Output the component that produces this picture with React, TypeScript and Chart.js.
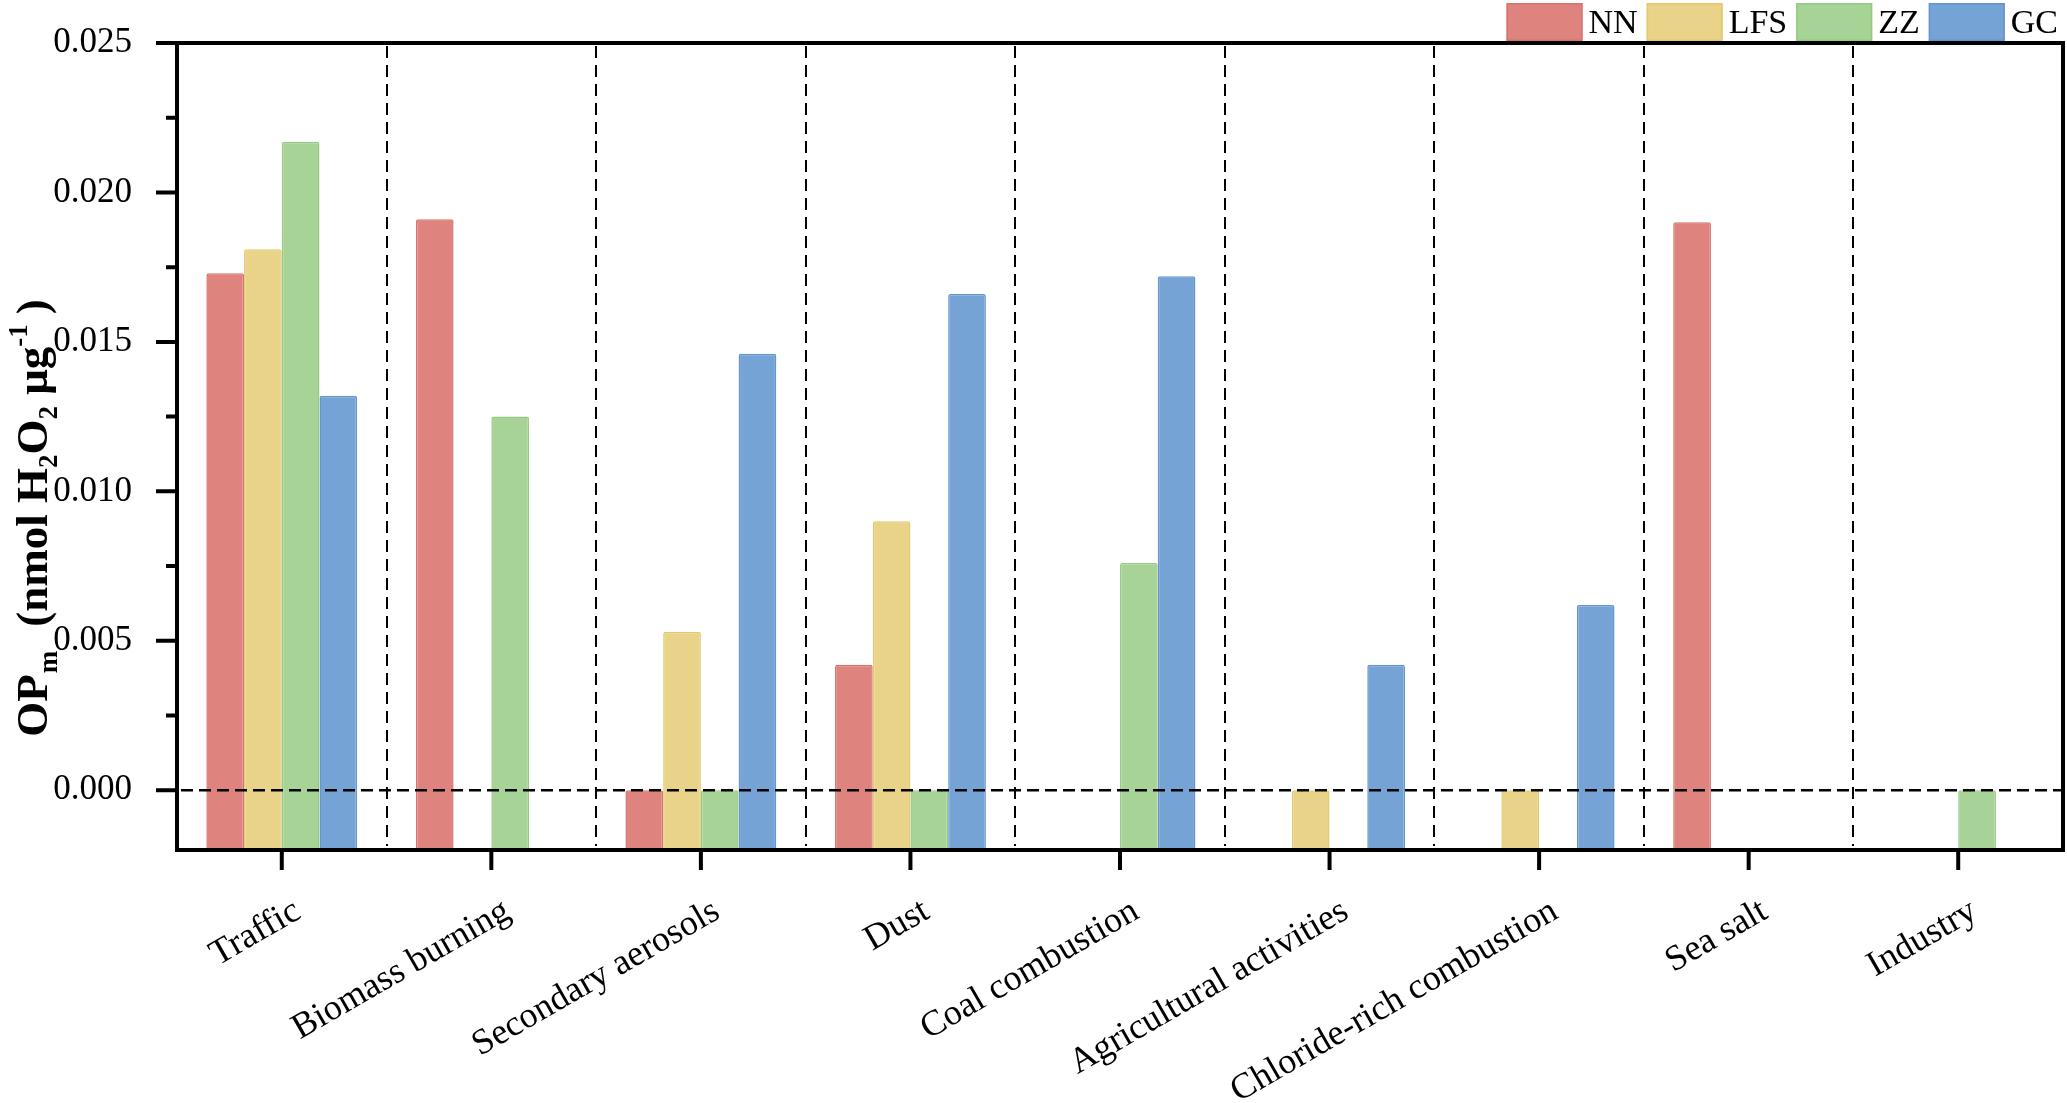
import React, { useEffect, useRef } from 'react';
import { Chart, registerables } from 'chart.js';

Chart.register(...registerables);

const categories = [
  'Traffic',
  'Biomass burning',
  'Secondary aerosols',
  'Dust',
  'Coal combustion',
  'Agricultural activities',
  'Chloride-rich combustion',
  'Sea salt',
  'Industry',
];
const seriesLabels = ['NN', 'LFS', 'ZZ', 'GC'];
const nnValues = [0.0173, 0.0191, 0, 0.0042, null, null, null, 0.019, null];
const lfsValues = [0.0181, null, 0.0053, 0.009, null, 0, 0, null, null];
const zzValues = [0.0217, 0.0125, 0, 0, 0.0076, null, null, null, 0];
const gcValues = [0.0132, null, 0.0146, 0.0166, 0.0172, 0.0042, 0.0062, null, null];
const yMajorTicks = [0, 0.005, 0.01, 0.015, 0.02, 0.025];
const yMinorTicks = [0.0025, 0.0075, 0.0125, 0.0175, 0.0225];
const Y_MIN = -0.002;
const Y_MAX = 0.025;
const yTitleTexts = ['OP', 'm', '(nmol H', '2', 'O', '2', ' \u03bcg', '-1', ')'];
const yTitleScripts = ['', 'sub', '', 'sub', '', 'sub', '', 'sup', ''];
const yTitleGapsBefore = [0, 1, 24, 0, 0, 0, 0, 0, 10];

const SERIF = "'Liberation Serif', 'Times New Roman', Times, serif";
const fills = ['#DE837D', '#E8D388', '#A7D396', '#76A3D5'];
const strokes = ['#D6736C', '#E2C96F', '#96C983', '#6495CF'];

const decorPlugin = {
  id: 'decor',
  beforeDatasetsDraw(chart: any) {
    const { ctx, chartArea: a } = chart;
    const x = chart.scales.x;
    ctx.save();
    ctx.strokeStyle = '#000';
    ctx.lineWidth = 2;
    ctx.setLineDash([12, 7]);
    for (let i = 0; i < categories.length - 1; i++) {
      const px = Math.round((x.getPixelForValue(i) + x.getPixelForValue(i + 1)) / 2);
      ctx.beginPath();
      ctx.moveTo(px, a.top + 3);
      ctx.lineTo(px, a.bottom - 4);
      ctx.stroke();
    }
    ctx.restore();
  },
  afterDatasetsDraw(chart: any) {
    const { ctx, chartArea: a } = chart;
    const x = chart.scales.x;
    const y = chart.scales.y;
    ctx.save();
    // zero line
    ctx.strokeStyle = '#000';
    ctx.lineWidth = 2.5;
    ctx.setLineDash([12, 6]);
    const y0 = y.getPixelForValue(0);
    ctx.beginPath();
    ctx.moveTo(a.left + 4, y0);
    ctx.lineTo(a.right, y0);
    ctx.stroke();
    ctx.setLineDash([]);
    // frame
    ctx.lineWidth = 4;
    ctx.strokeRect(a.left, a.top, a.right - a.left, a.bottom - a.top);
    // y ticks
    ctx.beginPath();
    for (const v of yMajorTicks) {
      const py = y.getPixelForValue(v);
      ctx.moveTo(a.left - 21, py);
      ctx.lineTo(a.left, py);
    }
    for (const v of yMinorTicks) {
      const py = y.getPixelForValue(v);
      ctx.moveTo(a.left - 11, py);
      ctx.lineTo(a.left, py);
    }
    // x ticks
    for (let i = 0; i < categories.length; i++) {
      const px = x.getPixelForValue(i);
      ctx.moveTo(px, a.bottom);
      ctx.lineTo(px, a.bottom + 20);
    }
    ctx.stroke();

    // legend
    const ds = chart.data.datasets;
    ctx.font = `34px ${SERIF}`;
    const boxW = 76;
    const boxH = 38;
    const gapText = 6;
    const gapItem = 9;
    const widths = ds.map((d: any) => ctx.measureText(d.label).width);
    let total = 0;
    widths.forEach((w: number) => (total += boxW + gapText + w));
    total += gapItem * (ds.length - 1);
    let lx = a.right - 5 - total;
    const top = a.top - 40;
    ds.forEach((d: any, i: number) => {
      ctx.fillStyle = d.backgroundColor;
      ctx.fillRect(lx, top, boxW, boxH);
      ctx.strokeStyle = d.borderColor;
      ctx.lineWidth = 1.5;
      ctx.strokeRect(lx + 0.75, top + 0.75, boxW - 1.5, boxH - 1.5);
      ctx.fillStyle = '#000';
      ctx.textBaseline = 'alphabetic';
      ctx.textAlign = 'left';
      ctx.fillText(d.label, lx + boxW + gapText, top + boxH / 2 + 11);
      lx += boxW + gapText + widths[i] + gapItem;
    });

    // y title
    const size = 45;
    const small = Math.round(size * 0.6);
    const fontFor = (s: string) => `bold ${s ? small : size}px ${SERIF}`;
    ctx.translate(47, 518);
    ctx.rotate(-Math.PI / 2);
    ctx.textAlign = 'left';
    ctx.textBaseline = 'alphabetic';
    let tw = 0;
    yTitleTexts.forEach((t, i) => {
      ctx.font = fontFor(yTitleScripts[i]);
      tw += yTitleGapsBefore[i] + ctx.measureText(t).width;
    });
    let tx = -tw / 2;
    ctx.fillStyle = '#000';
    yTitleTexts.forEach((t, i) => {
      const s = yTitleScripts[i];
      ctx.font = fontFor(s);
      tx += yTitleGapsBefore[i];
      const dy = s === 'sub' ? size * 0.22 : s === 'sup' ? -size * 0.45 : 0;
      ctx.fillText(t, tx, dy);
      tx += ctx.measureText(t).width;
    });
    ctx.restore();
  },
};

export default function App() {
  const ref = useRef<HTMLCanvasElement>(null);
  useEffect(() => {
    const valueLists = [nnValues, lfsValues, zzValues, gcValues];
    const chart = new Chart(ref.current as HTMLCanvasElement, {
      type: 'bar',
      data: {
        labels: categories,
        datasets: seriesLabels.map((label, i) => ({
          label,
          data: valueLists[i] as any,
          backgroundColor: fills[i],
          borderColor: strokes[i],
          borderWidth: 1.5,
          borderRadius: 2,
          base: Y_MIN,
          categoryPercentage: 0.72,
          barPercentage: 1.0,
        })),
      },
      options: {
        animation: false,
        responsive: true,
        maintainAspectRatio: false,
        layout: { padding: { top: 43, right: 4, left: 0, bottom: 0 } },
        plugins: {
          legend: { display: false },
          tooltip: { enabled: false },
        },
        scales: {
          x: {
            type: 'category',
            offset: true,
            grid: { display: false },
            border: { display: false },
            ticks: {
              autoSkip: false,
              minRotation: 30,
              maxRotation: 30,
              padding: 32,
              labelOffset: 16,
              color: '#000',
              font: { family: SERIF, size: 36 },
            },
            afterFit: (s: any) => {
              s.height = 253;
              s.paddingLeft = 0;
              s.paddingRight = 0;
            },
          },
          y: {
            type: 'linear',
            min: Y_MIN,
            max: Y_MAX,
            grid: { display: false },
            border: { display: false },
            afterBuildTicks: (s: any) => {
              s.ticks = yMajorTicks.map((v) => ({ value: v }));
            },
            ticks: {
              padding: 37,
              color: '#000',
              font: { family: SERIF, size: 35 },
              callback: (v: any) => Number(v).toFixed(3),
            },
            afterFit: (s: any) => {
              s.width = 177;
              s.paddingTop = 0;
              s.paddingBottom = 0;
            },
          },
        },
      },
      plugins: [decorPlugin],
    } as any);
    return () => chart.destroy();
  }, []);
  return (
    <div style={{ position: 'fixed', left: 0, top: 0, width: 2067, height: 1103, background: '#fff' }}>
      <canvas ref={ref} />
    </div>
  );
}
